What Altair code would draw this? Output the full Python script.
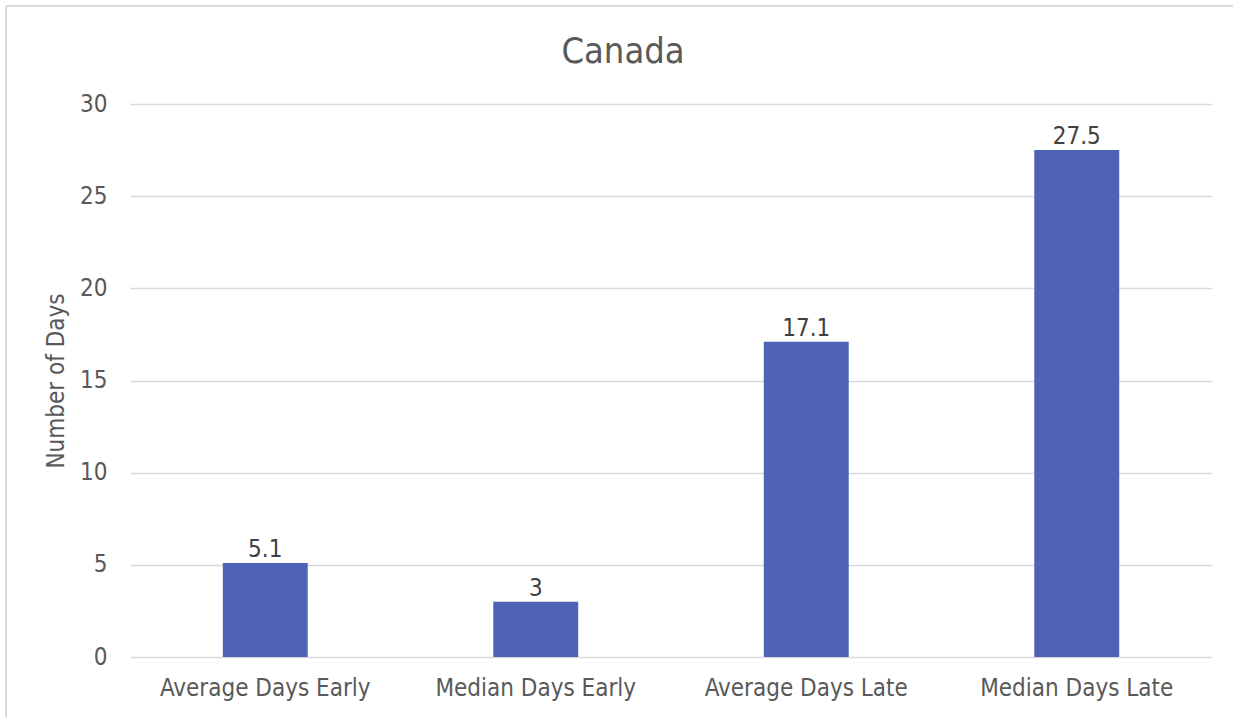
import altair as alt
import pandas as pd

title_text = ["Canada"]
categories = ["Average Days Early", "Median Days Early", "Average Days Late", "Median Days Late"]
values = [5.1, 3, 17.1, 27.5]
labels = ["5.1", "3", "17.1", "27.5"]
y_ticks = [0, 5, 10, 15, 20, 25, 30]

df = pd.DataFrame({"cat": categories, "val": values, "lab": labels})
tdf = pd.DataFrame({"t": title_text})

FONT = "Tahoma, 'DejaVu Sans Condensed', 'Noto Sans', sans-serif"
GRAY = "#595959"
FS = 24

x = alt.X("cat:N", sort=categories, title=None,
          scale=alt.Scale(paddingInner=0.686, paddingOuter=0.343),
          axis=alt.Axis(labelAngle=0, labelFontSize=FS, labelColor=GRAY, labelFont=FONT,
                        labelPadding=19, labelLimit=400, ticks=False, domain=False, grid=False))
y = alt.Y("val:Q", title="Number of Days",
          scale=alt.Scale(domain=[0, 30], nice=False),
          axis=alt.Axis(values=y_ticks, labelFontSize=FS, labelColor=GRAY, labelFont=FONT,
                        labelPadding=23, ticks=False, domain=False, gridColor="#d9d9d9",
                        gridWidth=1.5, titleFontSize=FS, titleFont=FONT, titleColor=GRAY,
                        titleFontWeight="normal", titlePadding=11))

bars = alt.Chart(df).mark_bar(color="#4E62B6").encode(x=x, y=y)
text = alt.Chart(df).mark_text(baseline="alphabetic", dy=-6, fontSize=FS, font=FONT,
                               color="#404040").encode(x=x, y=y, text="lab:N")

title = alt.Chart(tdf).mark_text(baseline="alphabetic", align="center", fontSize=36, font=FONT,
                                 color=GRAY).encode(x=alt.value(493), y=alt.value(-41), text="t:N")

border_v = alt.Chart(tdf).mark_rule(color="#d9d9d9", strokeWidth=2).encode(
    x=alt.value(-124), y=alt.value(-98), y2=alt.value(620))
border_h = alt.Chart(tdf).mark_rule(color="#d9d9d9", strokeWidth=2).encode(
    y=alt.value(-98), x=alt.value(-124), x2=alt.value(1110))

chart = alt.layer(border_v, border_h, bars, text, title).properties(
    width=1082, height=553,
    autosize=alt.AutoSizeParams(type="none"),
    padding={"left": 130, "top": 104, "right": 21, "bottom": 60},
).configure(background="white").configure_view(stroke=None, strokeWidth=0)

chart.save("out.html", embed_options={"renderer": "svg", "actions": False})
